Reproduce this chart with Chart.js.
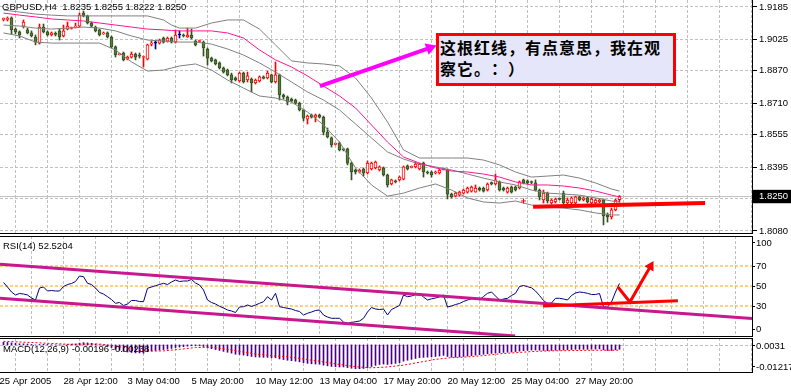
<!DOCTYPE html>
<html>
<head>
<meta charset="utf-8">
<title>GBPUSD,H4</title>
<script src="https://cdn.jsdelivr.net/npm/chart.js@4.4.1/dist/chart.umd.min.js"></script>
<style>
html, body { margin: 0; padding: 0; background: #fff; }
#frame { position: relative; width: 791px; height: 392px; overflow: hidden; background: #fff; }
#frame canvas { position: absolute; left: 0; }
.cap { position: absolute; left: 2px; font: 9.5px "Liberation Sans", Arial, sans-serif; line-height: 11px; white-space: pre; color: #000; }
#note { position: absolute; left: 436px; top: 33px; width: 233px; height: 46px; border: 3px solid #ff0000; background: #e6e6fa;
  padding: 1px 0 0 1px; font: bold 16px "Noto Sans CJK SC", sans-serif; line-height: 21px; letter-spacing: 1px; color: #000;
  white-space: nowrap; text-spacing-trim: space-all; }
</style>
</head>
<body>
<div id="frame">
  <canvas id="main" width="791" height="234" style="top:0"></canvas>
  <canvas id="rsi" width="791" height="103" style="top:235px"></canvas>
  <canvas id="macd" width="791" height="55" style="top:337px"></canvas>
  <div class="cap" style="top:1px">GBPUSD,H4  1.8235 1.8255 1.8222 1.8250</div>
  <div class="cap" style="top:240px;left:3px">RSI(14) 52.5204</div>
  <div class="cap" style="top:343px;left:3px">MACD(12,26,9) -0.00196 -0.00238</div>
  <div id="note">这根红线，有点意思，我在观<br>察它。：）</div>
</div>
<script>
// H4 candles, one per bar
const opens = [1.9124,1.9124,1.9131,1.9076,1.9062,1.9091,1.9072,1.9057,1.9037,1.9007,
  1.9086,1.9062,1.9047,1.9052,1.9067,1.9042,1.9076,1.9079,1.9086,1.9091,
  1.9155,1.9141,1.9106,1.9086,1.9072,1.9052,1.9057,1.9037,1.8988,1.8950,
  1.8958,1.8928,1.8938,1.8953,1.8948,1.8936,1.8928,1.9002,1.9007,1.9007,
  1.9032,1.9017,1.9032,1.9012,1.9047,1.9047,1.9037,1.9047,1.9017,1.9015,
  1.9012,1.8978,1.8933,1.8924,1.8909,1.8884,1.8874,1.8850,1.8835,1.8820,
  1.8859,1.8825,1.8830,1.8810,1.8820,1.8840,1.8835,1.8850,1.8815,1.8850,
  1.8751,1.8741,1.8731,1.8726,1.8711,1.8677,1.8632,1.8652,1.8642,1.8652,
  1.8642,1.8568,1.8539,1.8507,1.8514,1.8485,1.8485,1.8415,1.8381,1.8371,
  1.8386,1.8366,1.8386,1.8391,1.8381,1.8391,1.8356,1.8312,1.8327,1.8332,
  1.8336,1.8401,1.8394,1.8396,1.8386,1.8415,1.8371,1.8371,1.8366,1.8366,
  1.8384,1.8381,1.8262,1.8252,1.8257,1.8267,1.8272,1.8277,1.8272,1.8292,
  1.8292,1.8282,1.8319,1.8312,1.8322,1.8292,1.8272,1.8297,1.8297,1.8292,
  1.8332,1.8327,1.8322,1.8317,1.8282,1.8233,1.8267,1.8218,1.8223,1.8238,
  1.8267,1.8218,1.8218,1.8218,1.8248,1.8233,1.8243,1.8218,1.8218,1.8223,
  1.8233,1.8159,1.8149,1.8184,1.8235];
const highs = [1.9131,1.9136,1.9136,1.9081,1.9067,1.9121,1.9081,1.9067,1.9047,1.9101,
  1.9101,1.9067,1.9062,1.9062,1.9076,1.9096,1.9111,1.9086,1.9106,1.9155,
  1.9165,1.9145,1.9111,1.9091,1.9076,1.9062,1.9062,1.9042,1.8993,1.8955,
  1.8963,1.8943,1.8963,1.8958,1.8958,1.8943,1.9002,1.9017,1.9017,1.9027,
  1.9037,1.9037,1.9037,1.9072,1.9067,1.9052,1.9081,1.9076,1.9022,1.9022,
  1.9017,1.8983,1.8938,1.8928,1.8914,1.8889,1.8879,1.8859,1.8840,1.8864,
  1.8864,1.8864,1.8835,1.8830,1.8845,1.8845,1.8869,1.8854,1.8914,1.8854,
  1.8756,1.8746,1.8736,1.8731,1.8716,1.8682,1.8652,1.8657,1.8657,1.8657,
  1.8647,1.8588,1.8544,1.8514,1.8519,1.8489,1.8489,1.8420,1.8386,1.8386,
  1.8391,1.8425,1.8420,1.8425,1.8401,1.8396,1.8361,1.8336,1.8332,1.8351,
  1.8401,1.8406,1.8401,1.8420,1.8415,1.8420,1.8376,1.8376,1.8376,1.8386,
  1.8391,1.8386,1.8267,1.8272,1.8277,1.8287,1.8297,1.8302,1.8307,1.8297,
  1.8297,1.8317,1.8322,1.8361,1.8327,1.8297,1.8297,1.8302,1.8302,1.8327,
  1.8336,1.8332,1.8327,1.8332,1.8287,1.8282,1.8272,1.8238,1.8243,1.8243,
  1.8277,1.8243,1.8248,1.8252,1.8252,1.8248,1.8248,1.8243,1.8238,1.8238,
  1.8238,1.8169,1.8193,1.8238,1.8255];
const lows = [1.9116,1.9116,1.9052,1.9052,1.9032,1.9081,1.9052,1.9037,1.8998,1.9002,
  1.9057,1.9042,1.9042,1.9042,1.9022,1.9037,1.9072,1.9076,1.9081,1.9086,
  1.9136,1.9101,1.9086,1.9062,1.9042,1.9050,1.9032,1.8983,1.8938,1.8948,
  1.8919,1.8924,1.8933,1.8924,1.8933,1.8889,1.8924,1.8993,1.8978,1.9002,
  1.9007,1.9012,1.9007,1.9007,1.9032,1.9037,1.9035,1.9027,1.8993,1.9012,
  1.8943,1.8899,1.8914,1.8899,1.8879,1.8859,1.8845,1.8810,1.8820,1.8815,
  1.8810,1.8815,1.8766,1.8805,1.8815,1.8830,1.8830,1.8810,1.8810,1.8726,
  1.8731,1.8702,1.8716,1.8706,1.8672,1.8623,1.8608,1.8637,1.8618,1.8637,
  1.8554,1.8539,1.8494,1.8504,1.8475,1.8475,1.8406,1.8332,1.8361,1.8366,
  1.8351,1.8361,1.8381,1.8386,1.8376,1.8351,1.8297,1.8307,1.8317,1.8327,
  1.8332,1.8381,1.8391,1.8391,1.8381,1.8346,1.8361,1.8346,1.8361,1.8361,
  1.8381,1.8238,1.8243,1.8248,1.8252,1.8262,1.8267,1.8272,1.8272,1.8277,
  1.8272,1.8277,1.8307,1.8307,1.8277,1.8277,1.8267,1.8267,1.8277,1.8287,
  1.8312,1.8312,1.8312,1.8277,1.8233,1.8218,1.8218,1.8213,1.8218,1.8233,
  1.8213,1.8213,1.8213,1.8213,1.8228,1.8228,1.8218,1.8213,1.8213,1.8218,
  1.8110,1.8124,1.8139,1.8179,1.8222];
const closes = [1.9126,1.9126,1.9072,1.9062,1.9047,1.9111,1.9057,1.9042,1.9012,1.9086,
  1.9062,1.9047,1.9057,1.9050,1.9037,1.9067,1.9091,1.9084,1.9091,1.9145,
  1.9141,1.9106,1.9091,1.9067,1.9047,1.9057,1.9037,1.8988,1.8948,1.8953,
  1.8924,1.8938,1.8953,1.8938,1.8943,1.8938,1.8998,1.9005,1.9007,1.9022,
  1.9012,1.9032,1.9012,1.9047,1.9047,1.9042,1.9047,1.9032,1.8998,1.9017,
  1.8983,1.8933,1.8919,1.8904,1.8884,1.8864,1.8850,1.8825,1.8825,1.8859,
  1.8815,1.8845,1.8810,1.8825,1.8840,1.8833,1.8859,1.8815,1.8850,1.8751,
  1.8741,1.8716,1.8721,1.8711,1.8677,1.8637,1.8647,1.8642,1.8652,1.8642,
  1.8568,1.8544,1.8504,1.8509,1.8480,1.8480,1.8415,1.8371,1.8371,1.8379,
  1.8366,1.8415,1.8415,1.8420,1.8396,1.8356,1.8307,1.8332,1.8322,1.8346,
  1.8396,1.8386,1.8396,1.8410,1.8410,1.8371,1.8366,1.8356,1.8371,1.8381,
  1.8386,1.8262,1.8248,1.8267,1.8272,1.8282,1.8292,1.8297,1.8292,1.8282,
  1.8277,1.8312,1.8312,1.8332,1.8282,1.8282,1.8292,1.8272,1.8282,1.8322,
  1.8317,1.8317,1.8319,1.8282,1.8248,1.8267,1.8228,1.8233,1.8238,1.8236,
  1.8218,1.8233,1.8243,1.8248,1.8233,1.8243,1.8223,1.8238,1.8233,1.8233,
  1.8154,1.8149,1.8184,1.8233,1.8250];

// Bollinger bands (grey) and the pink average, read at these bars
const bandBars = [0,4,8,12,16,20,24,28,32,36,40,42,44,48,52,56,60,64,68,72,76,80,84,88,92,96,100,104,108,112,116,120,124,128,132,136,140,144,148,152,154];
const bbUpper = [1.9170,1.9160,1.9150,1.9145,1.9141,1.9141,1.9141,1.9141,1.9141,1.9141,1.9121,1.9096,1.9081,1.9081,1.9106,1.9121,1.9121,1.9076,1.8998,1.8919,
  1.8909,1.8904,1.8894,1.8835,1.8736,1.8618,1.8480,1.8440,1.8440,1.8440,1.8440,1.8430,1.8406,1.8371,1.8346,1.8351,1.8356,1.8341,1.8317,1.8287,1.8277];
const bbMiddle = [1.9096,1.9091,1.9081,1.9076,1.9081,1.9086,1.9081,1.9067,1.9042,1.9022,1.9017,1.9015,1.9012,1.9012,1.9002,1.8978,1.8948,1.8909,1.8864,1.8815,
  1.8766,1.8726,1.8677,1.8608,1.8539,1.8470,1.8435,1.8410,1.8396,1.8381,1.8361,1.8341,1.8322,1.8307,1.8282,1.8267,1.8262,1.8257,1.8243,1.8228,1.8223];
const bbLower = [1.9057,1.9042,1.9012,1.9007,1.9007,1.9007,1.9007,1.8973,1.8914,1.8869,1.8874,1.8884,1.8894,1.8904,1.8874,1.8825,1.8785,1.8746,1.8736,1.8716,
  1.8667,1.8603,1.8519,1.8391,1.8307,1.8252,1.8267,1.8292,1.8312,1.8282,1.8243,1.8223,1.8218,1.8228,1.8208,1.8198,1.8193,1.8184,1.8169,1.8159,1.8159];
const maPink = [1.9155,1.9145,1.9136,1.9126,1.9121,1.9116,1.9106,1.9096,1.9086,1.9076,1.9072,1.9069,1.9067,1.9067,1.9067,1.9057,1.9032,1.8973,1.8924,1.8889,
  1.8845,1.8795,1.8746,1.8687,1.8603,1.8519,1.8445,1.8415,1.8391,1.8376,1.8371,1.8361,1.8346,1.8322,1.8307,1.8307,1.8302,1.8292,1.8277,1.8257,1.8248];

const rsiValues = [53.5,49,44,41,42.5,42,41,38,36,48,
  49,45,45.5,45,45,49.5,51.5,52.5,54.5,60,
  59.3,52.7,51.5,48,43.5,42,39.3,36.5,32.7,33.5,
  30.5,32,35.5,35.5,34.5,34.3,47.7,49,50.3,51.5,
  52.7,51.5,54,56,54.5,55,55,56.5,53,51,
  46,36,33.5,32,29.7,28,26,25,23.5,29,
  29.3,31,29.5,31,32.7,34.3,39.3,36,42.7,29.3,
  28.5,27.7,27,25.5,24.5,21,22.7,24,25.5,26,
  21,19,17.7,17.7,17.7,14,12.7,13.5,14.3,15,
  17.7,24,28.5,27,26.5,27,21,26.5,28.5,30.5,
  41,39.3,40,41.5,42.5,39,36,37.2,38,39.2,
  41,29,30,31.5,32.5,34.5,36,37.3,37.5,36.2,
  39.5,42.7,44,40,36,37,37.7,40.5,42.7,49.5,
  50.5,49.3,48.2,45,40.5,35.5,32.5,33,37.7,37.7,
  37,36,40.5,43,44,43.5,42.7,41.5,41.5,42.5,
  29.3,28.7,34,44,52.5204];
const rsiLevels = [70, 50, 30];

const macdMain = [0.0012,0.0011,0.0009,0.0007,0.0005,0.0005,0.0004,0.0002,0.0000,0.0002,
  0.0003,0.0002,0.0001,0.0000,-0.0001,0.0000,0.0002,0.0003,0.0004,0.0008,
  0.0010,0.0009,0.0007,0.0004,0.0001,-0.0002,-0.0006,-0.0012,-0.0019,-0.0024,
  -0.0029,-0.0032,-0.0034,-0.0036,-0.0036,-0.0037,-0.0030,-0.0027,-0.0025,-0.0023,
  -0.0021,-0.0019,-0.0016,-0.0012,-0.0010,-0.0008,-0.0006,-0.0004,-0.0004,-0.0004,
  -0.0007,-0.0013,-0.0017,-0.0021,-0.0025,-0.0029,-0.0033,-0.0037,-0.0042,-0.0043,
  -0.0046,-0.0049,-0.0052,-0.0054,-0.0055,-0.0056,-0.0056,-0.0058,-0.0058,-0.0063,
  -0.0066,-0.0069,-0.0071,-0.0073,-0.0076,-0.0080,-0.0083,-0.0085,-0.0086,-0.0087,
  -0.0091,-0.0094,-0.0097,-0.0098,-0.0099,-0.0099,-0.0102,-0.0105,-0.0107,-0.0107,
  -0.0106,-0.0102,-0.0097,-0.0092,-0.0088,-0.0086,-0.0088,-0.0086,-0.0083,-0.0080,
  -0.0073,-0.0069,-0.0065,-0.0061,-0.0057,-0.0056,-0.0055,-0.0054,-0.0052,-0.0050,
  -0.0047,-0.0052,-0.0055,-0.0055,-0.0054,-0.0052,-0.0050,-0.0048,-0.0046,-0.0044,
  -0.0042,-0.0040,-0.0038,-0.0036,-0.0035,-0.0034,-0.0033,-0.0032,-0.0030,-0.0028,
  -0.0026,-0.0025,-0.0023,-0.0023,-0.0024,-0.0025,-0.0026,-0.0025,-0.0024,-0.0023,
  -0.0023,-0.0022,-0.0021,-0.0020,-0.0020,-0.0020,-0.0020,-0.0019,-0.0019,-0.0018,
  -0.0022,-0.0025,-0.0025,-0.0022,-0.00196];
const signalBars = [0,8,16,24,28,32,36,40,44,48,52,56,60,64,68,72,76,80,84,88,92,96,100,104,108,112,116,120,124,128,132,136,140,144,148,152,154];
const macdSignal = [0.0016,0.0010,0.0003,0.0004,-0.0005,-0.0018,-0.0028,-0.0027,-0.0020,-0.0012,-0.0010,-0.0020,-0.0032,-0.0043,-0.0050,-0.0055,-0.0066,-0.0076,-0.0088,
  -0.0098,-0.0103,-0.0099,-0.0091,-0.0078,-0.0065,-0.0057,-0.0054,-0.0048,-0.0040,-0.0035,-0.0030,-0.0027,-0.0026,-0.0025,-0.0024,-0.0024,-0.00238];

const timeLabels = ['25 Apr 2005','28 Apr 12:00','3 May 04:00','5 May 20:00','10 May 12:00','13 May 04:00','17 May 20:00','20 May 12:00','25 May 04:00','27 May 20:00'];
const priceTicks = [1.9185, 1.9025, 1.8870, 1.8710, 1.8555, 1.8395, 1.8250, 1.8240, 1.8080];
const lastPrice = 1.8250;

// hand-drawn objects on the chart (bar, value)
const pinkArrow = [[79.1, 1.8795], [106.6, 1.8983]];
const redLineMain = [[132.4, 1.8200], [175.4, 1.8218]];
const redCross = [[130, 1.8228]];
const rsiUpperTrend = [[-0.875, 71.7], [187.125, 17.6]];
const rsiLowerTrend = [[-0.875, 37.7], [127.9, 0]];
const rsiRedLine = [[134.9, 30], [168.6, 35.3]];
const rsiRedArrow = [[153.6, 49], [156.6, 34], [161.75, 69.7]];

const X_MIN = -0.875, X_MAX = 187.125;
const gridBars = Array.from({ length: 24 }, (_, k) => 8 * k - 1);

Chart.defaults.font.family = '"Liberation Sans", Arial, sans-serif';
Chart.defaults.font.size = 9.5;
Chart.defaults.color = '#000';

const BEAR_FILL = '#587c3a', BEAR_LINE = '#34501f', BULL = '#ff0000', DOJI = '#000080';
const candleLine = opens.map((o, i) => closes[i] > o ? BULL : closes[i] < o ? BEAR_LINE : DOJI);
const candleFill = opens.map((o, i) => closes[i] > o ? '#ffffff' : closes[i] < o ? BEAR_FILL : DOJI);

const pts = arr => arr.map(p => ({ x: p[0], y: p[1] }));

// labels may hang over the plot edges, so no extra layout padding from the axes
const noPad = s => { s.paddingLeft = 0; s.paddingRight = 0; s.paddingTop = 0; s.paddingBottom = 0; };

function line(data, color, width, order, extra) {
  return Object.assign({ type: 'line', data, borderColor: color, borderWidth: width, pointRadius: 0,
    tension: 0, fill: false, order, xAxisID: 'x', yAxisID: 'y' }, extra || {});
}

function xAxis(height, labels) {
  return {
    type: 'linear', position: 'bottom', min: X_MIN, max: X_MAX, offset: false,
    afterBuildTicks: s => { s.ticks = gridBars.map(v => ({ value: v })); },
    afterFit: s => { s.height = height; noPad(s); },
    grid: { color: '#c0c0c0', drawTicks: false },
    border: { display: true, color: '#000', dash: [3, 2] },
    ticks: labels
      ? { display: true, autoSkip: false, maxRotation: 0, minRotation: 0, align: 'start', padding: 4,
          callback: (v, k) => (k % 2 === 0 && timeLabels[k / 2]) || '' }
      : { display: false }
  };
}

const topAxis = {
  type: 'linear', position: 'top', min: X_MIN, max: X_MAX, offset: false,
  afterFit: s => { s.height = 1; noPad(s); },
  grid: { display: false, drawTicks: false },
  border: { display: true, color: '#000' },
  ticks: { display: false }
};

function yAxis(min, max, ticks, label, tickLen, pad, gridColor, extraTicks) {
  return {
    type: 'linear', position: 'right', min, max,
    afterBuildTicks: s => { s.ticks = ticks.map(v => ({ value: v })); },
    afterFit: s => { s.width = 39; noPad(s); },
    grid: { color: gridColor, tickColor: '#000', tickLength: tickLen, tickBorderDash: [] },
    border: { display: true, color: '#000', dash: [3, 2] },
    ticks: Object.assign({ autoSkip: false, padding: pad, callback: label }, extraTicks || {})
  };
}

const common = { responsive: false, animation: false, devicePixelRatio: 1, events: [],
  layout: { padding: 0, autoPadding: false }, plugins: { legend: { display: false }, tooltip: { enabled: false } } };

// price window
new Chart(document.getElementById('main'), {
  type: 'bar',
  data: { datasets: [
    line(pts(pinkArrow), '#ff00ff', 4, 0, { pointRadius: [0, 7], pointStyle: 'triangle', pointRotation: [0, 70],
      pointBackgroundColor: '#ff00ff', pointBorderWidth: 0 }),
    line(pts(redLineMain), '#ff0000', 4, 0),
    line(pts(redCross), '#ff0000', 1, 0, { showLine: false, pointRadius: 2.5, pointStyle: 'cross', pointBorderColor: '#ff0000', pointBorderWidth: 1 }),
    line(bandBars.map((b, k) => ({ x: b, y: maPink[k] })), '#ff1493', 1, 1),
    line(bandBars.map((b, k) => ({ x: b, y: bbUpper[k] })), '#808080', 1, 2),
    line(bandBars.map((b, k) => ({ x: b, y: bbMiddle[k] })), '#808080', 1, 2),
    line(bandBars.map((b, k) => ({ x: b, y: bbLower[k] })), '#808080', 1, 2),
    { type: 'bar', order: 3, xAxisID: 'x', yAxisID: 'y', grouped: false, barThickness: 3, minBarLength: 1,
      borderWidth: 1, borderSkipped: false, backgroundColor: candleFill, borderColor: candleLine,
      data: opens.map((o, i) => ({ x: i, y: [o, closes[i]] })) },
    { type: 'bar', order: 4, xAxisID: 'x', yAxisID: 'y', grouped: false, barThickness: 1, borderWidth: 0,
      backgroundColor: candleLine, data: lows.map((l, i) => ({ x: i, y: [l, highs[i]] })) },
    line([{ x: X_MIN, y: lastPrice }, { x: X_MAX, y: lastPrice }], '#c0c0c0', 1, 5)
  ] },
  options: Object.assign({}, common, { scales: {
    x: xAxis(1, false),
    y: yAxis(1.80701, 1.92195, priceTicks, v => v === 1.824 ? '' : v.toFixed(4), 5, 2,
      c => (c.tick && c.tick.value === lastPrice) ? 'rgba(0,0,0,0)' : '#c0c0c0',
      { color: c => (c.tick && c.tick.value === lastPrice) ? '#fff' : '#000',
        showLabelBackdrop: c => !!(c.tick && c.tick.value === lastPrice),
        backdropColor: '#000', backdropPadding: { top: 1, bottom: 1, left: 6, right: 3 } })
  } })
});

// RSI window
const rsiTickLabels = { 7: '0', 30: '30', 50: '50', 70: '70', 93: '100' };
new Chart(document.getElementById('rsi'), {
  type: 'line',
  data: { datasets: [
    line(pts(rsiRedArrow), '#ff0000', 3, 0, { pointRadius: [0, 0, 6], pointStyle: 'triangle', pointRotation: [0, 0, 30],
      pointBackgroundColor: '#ff0000', pointBorderWidth: 0 }),
    line(pts(rsiRedLine), '#ff0000', 3, 0),
    line(pts(rsiUpperTrend), '#c8188f', 3, 1),
    line(pts(rsiLowerTrend), '#c8188f', 3, 1),
    line(rsiValues.map((v, i) => ({ x: i, y: v })), '#000080', 1, 2),
    ...rsiLevels.map(lv => line([{ x: X_MIN, y: lv }, { x: X_MAX, y: lv }], '#ffa500', 1, 3, { borderDash: [3, 2] }))
  ] },
  options: Object.assign({}, common, { scales: {
    x: xAxis(2, false),
    xt: topAxis,
    y: yAxis(0, 100, [7, 30, 50, 70, 93], v => rsiTickLabels[v], 3, 1, 'rgba(0,0,0,0)')
  } })
});

// MACD window
const macdTicks = [-0.00992, -0.00049];
const macdTickLabels = ['-0.01217', '0.0031'];
new Chart(document.getElementById('macd'), {
  type: 'bar',
  data: { datasets: [
    line(signalBars.map((b, k) => ({ x: b, y: macdSignal[k] })), '#ff0000', 1, 0, { borderDash: [2, 2] }),
    { type: 'bar', order: 1, xAxisID: 'x', yAxisID: 'y', grouped: false, barThickness: 1, borderWidth: 0,
      backgroundColor: '#4b0082', data: macdMain.map((v, i) => ({ x: i, y: v })) }
  ] },
  options: Object.assign({}, common, { scales: {
    x: xAxis(20, true),
    xt: topAxis,
    y: yAxis(-0.01217, 0.0031, macdTicks, (v, k) => macdTickLabels[k], 3, 1,
      c => (c.index === 1 ? '#c0c0c0' : 'rgba(0,0,0,0)'))
  } })
});
</script>
</body>
</html>
